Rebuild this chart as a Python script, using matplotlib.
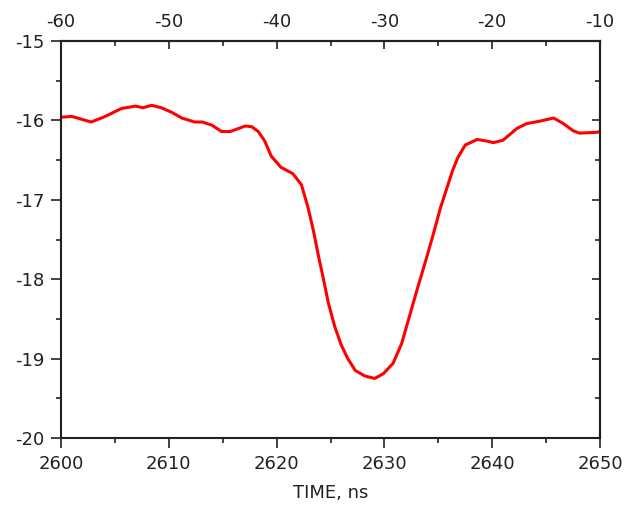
import matplotlib.pyplot as plt
import numpy as np

plt.rcParams["axes.unicode_minus"] = False

# curve
time = np.array([2600.0, 2601.0, 2602.8, 2604.1, 2605.6, 2606.9, 2607.6, 2608.4, 2609.3,
                 2610.3, 2611.2, 2612.4, 2613.1, 2614.0, 2614.9, 2615.7, 2616.3, 2617.1,
                 2617.7, 2618.3, 2618.9, 2619.5, 2620.4, 2621.5, 2622.3, 2622.9, 2623.4,
                 2623.9, 2624.3, 2624.8, 2625.4, 2626.0, 2626.6, 2627.3, 2628.2, 2629.1,
                 2629.9, 2630.8, 2631.6, 2632.4, 2633.1, 2633.8, 2634.5, 2635.2, 2635.8,
                 2636.3, 2636.8, 2637.5, 2638.6, 2639.5, 2640.1, 2641.0, 2642.3, 2643.2,
                 2644.4, 2645.7, 2646.6, 2647.5, 2648.1, 2649.7, 2650.0])
signal = np.array([-15.96, -15.95, -16.02, -15.95, -15.85, -15.82, -15.84, -15.81, -15.84,
                   -15.90, -15.97, -16.02, -16.02, -16.06, -16.14, -16.14, -16.11, -16.07,
                   -16.08, -16.14, -16.26, -16.45, -16.59, -16.67, -16.81, -17.09, -17.38,
                   -17.72, -17.97, -18.30, -18.60, -18.83, -19.00, -19.15, -19.22, -19.25,
                   -19.19, -19.06, -18.81, -18.43, -18.10, -17.78, -17.45, -17.10, -16.85,
                   -16.64, -16.47, -16.31, -16.24, -16.26, -16.28, -16.25, -16.10, -16.04,
                   -16.01, -15.97, -16.04, -16.13, -16.16, -16.15, -16.14])

xticks = [2600, 2610, 2620, 2630, 2640, 2650]
yticks = [-20, -19, -18, -17, -16, -15]
top_ticks = [-60, -50, -40, -30, -20, -10]

fig = plt.figure(figsize=(6.35, 5.07), dpi=100)
ax = fig.add_axes([0.0961, 0.1361, 0.8488, 0.783])

ax.plot(time, signal, c="red", lw=2.2)
ax.set_xlim(2600, 2650)
ax.set_ylim(-20, -15)
ax.set_xticks(xticks)
ax.set_xticks(np.arange(2605, 2650, 10), minor=True)
ax.set_yticks(yticks)
ax.set_yticks(np.arange(-19.5, -15, 1), minor=True)
ax.set_xlabel("TIME, ns", fontsize=13, color="#222222", labelpad=8)

for s in ax.spines.values():
    s.set_linewidth(1.5)
    s.set_color("#222222")

ax.tick_params(which="major", direction="out", length=7, width=1.2, labelsize=13,
               colors="#222222", pad=5)
ax.tick_params(which="minor", direction="out", length=3.5, width=1.2, colors="#222222")

# top axis: time shifted by -2660
top = ax.secondary_xaxis("top", functions=(lambda t: t - 2660, lambda t: t + 2660))
top.set_xticks(top_ticks)
top.set_xticks(np.arange(-55, -10, 10), minor=True)
top.spines["top"].set_linewidth(1.5)
top.tick_params(which="major", direction="in", length=6, width=1.2, labelsize=13,
                colors="#222222", pad=7)
top.tick_params(which="minor", direction="in", length=3.5, width=1.2, colors="#222222")

# right axis: ticks only
right = ax.secondary_yaxis("right")
right.set_yticks(yticks)
right.set_yticks(np.arange(-19.5, -15, 1), minor=True)
right.set_yticklabels([])
right.spines["right"].set_linewidth(1.5)
right.tick_params(which="major", direction="in", length=6, width=1.2, colors="#222222")
right.tick_params(which="minor", direction="in", length=3.5, width=1.2, colors="#222222")

fig.savefig("out.png", dpi=100)
